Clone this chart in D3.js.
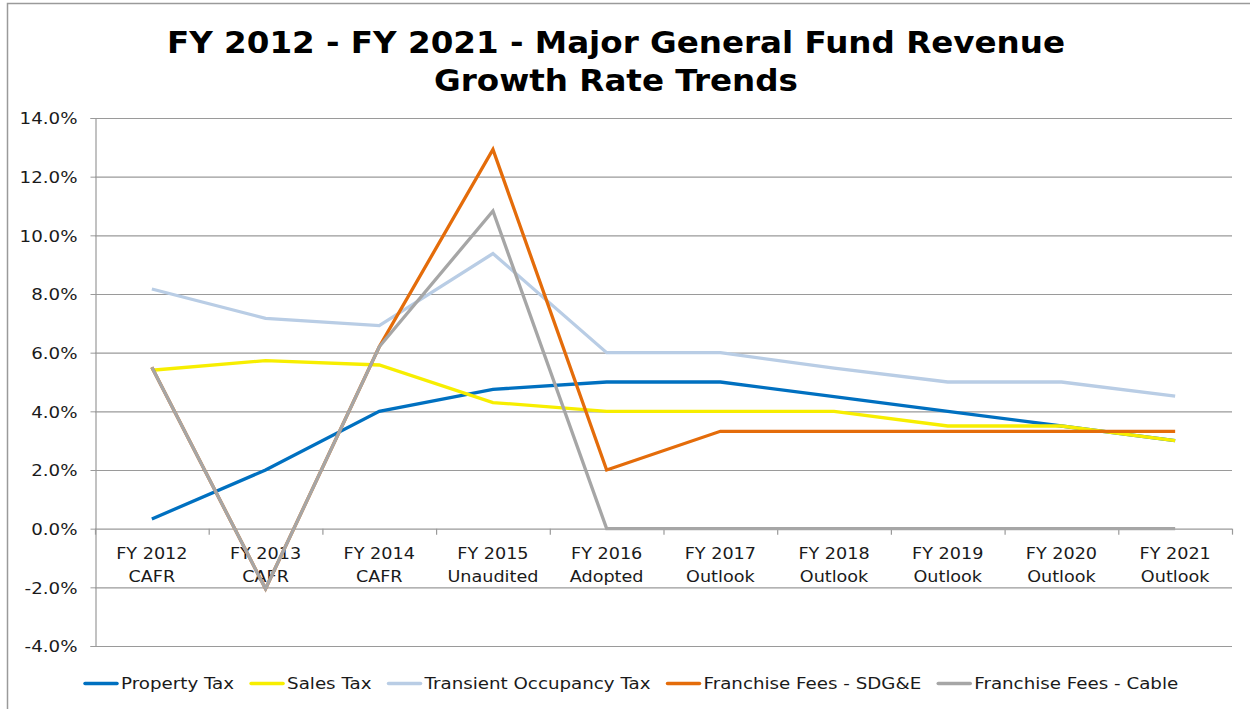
<!DOCTYPE html>
<html><head><meta charset="utf-8">
<script src="https://cdn.jsdelivr.net/npm/d3@7"></script>
<style>body{margin:0;background:#fff}svg{display:block}</style>
</head><body>
<svg id="chart" width="1250" height="709"></svg>
<script>
const categories = [
  ["FY 2012","CAFR"],["FY 2013","CAFR"],["FY 2014","CAFR"],["FY 2015","Unaudited"],["FY 2016","Adopted"],
  ["FY 2017","Outlook"],["FY 2018","Outlook"],["FY 2019","Outlook"],["FY 2020","Outlook"],["FY 2021","Outlook"]
];
const propertyTax   = [0.33, 2.0, 4.0, 4.75, 5.0, 5.0, 4.5, 4.0, 3.5, 3.0];
const salesTax      = [5.4, 5.73, 5.58, 4.3, 4.0, 4.0, 4.0, 3.5, 3.5, 3.0];
const transientTax  = [8.17, 7.17, 6.92, 9.38, 6.0, 6.0, 5.47, 5.0, 5.0, 4.52];
const franchiseSDGE = [5.5, -2.05, 6.2, 12.93, 2.0, 3.32, 3.32, 3.32, 3.32, 3.32];
const franchiseCable= [5.5, -2.05, 6.2, 10.83, 0.0, 0.0, 0.0, 0.0, 0.0, 0.0];
const yTicks = [-4, -2, 0, 2, 4, 6, 8, 10, 12, 14];
const seriesNames = ["Property Tax","Sales Tax","Transient Occupancy Tax","Franchise Fees - SDG&E","Franchise Fees - Cable"];
const seriesColors = ["#0070C0","#F7EE00","#B9CDE5","#E46C0A","#A6A6A6"];
const titleLines = ["FY 2012 - FY 2021 - Major General Fund Revenue","Growth Rate Trends"];

const series = [propertyTax, salesTax, transientTax, franchiseSDGE, franchiseCable];
const svg = d3.select("#chart");
const font = "Verdana, 'DejaVu Sans', sans-serif";

function stretch(sel, k){
  sel.each(function(){
    const w = this.getComputedTextLength();
    this.setAttribute("textLength", w*k);
    this.setAttribute("lengthAdjust","spacingAndGlyphs");
  });
}

// outer border
svg.append("path").attr("d","M7.5,709 L7.5,3.5 L1250,3.5").attr("fill","none").attr("stroke","#9a9a9a").attr("stroke-width",1.5);

const L = 95, R = 1232, T = 118, B = 646;
const x = d3.scaleBand().domain(d3.range(categories.length)).range([L, R]).paddingInner(0).paddingOuter(0);
const y = d3.scaleLinear().domain([-4, 14]).range([B, T]);

// title
const tt = svg.append("g").selectAll("text").data(titleLines).join("text")
  .attr("x", 616).attr("y", (d,i)=> 53 + i*38)
  .attr("text-anchor","middle").attr("font-family",font).attr("font-weight","bold")
  .attr("font-size",30).attr("fill","#000").text(d=>d);
stretch(tt, 1.085);

// gridlines
svg.append("g").selectAll("line").data(yTicks).join("line")
  .attr("x1", L).attr("x2", R).attr("y1", d=>y(d)+0.5).attr("y2", d=>y(d)+0.5)
  .attr("stroke","#9a9a9a").attr("stroke-width",1.2);

// y axis
const yAxis = d3.axisLeft(y).tickValues(yTicks).tickFormat(d=>d.toFixed(1)+"%").tickSize(5).tickPadding(13);
const gy = svg.append("g").attr("transform",`translate(${L+0.5},0)`).call(yAxis);
gy.select(".domain").attr("stroke","#9a9a9a").attr("stroke-width",1.2);
gy.selectAll(".tick line").attr("stroke","#9a9a9a");
gy.selectAll("text").attr("font-family",font).attr("font-size",16).attr("fill","#1a1a1a").attr("dy","0.36em");
stretch(gy.selectAll("text"), 1.14);

// x axis at 0 with ticks at boundaries
const boundaries = d3.range(categories.length+1).map(i => i < categories.length ? x(i) : R);
svg.append("g").selectAll("line").data(boundaries).join("line")
  .attr("x1", d=>d+0.5).attr("x2", d=>d+0.5).attr("y1", y(0)).attr("y2", y(0)+6)
  .attr("stroke","#9a9a9a").attr("stroke-width",1.2);
const catG = svg.append("g").selectAll("g").data(categories).join("g");
const catT = catG.selectAll("text").data((d,i)=> d.map(s=>({s, i}))).join("text")
  .attr("x", d=> x(d.i)+x.bandwidth()/2).attr("y", (d,j)=> y(0)+30 + j*23)
  .attr("text-anchor","middle").attr("font-family",font).attr("font-size",16).attr("fill","#1a1a1a")
  .text(d=>d.s);
stretch(catT, 1.1);

// lines
const line = d3.line().x((d,i)=> x(i)+x.bandwidth()/2).y(d=>y(d));
svg.append("g").selectAll("path").data(series).join("path")
  .attr("d", d=>line(d)).attr("fill","none")
  .attr("stroke",(d,i)=>seriesColors[i]).attr("stroke-width",3.3)
  .attr("stroke-linejoin","miter").attr("stroke-linecap","butt");

// legend
const lg = svg.append("g").attr("font-family",font).attr("font-size",16);
let lx = 85;
seriesNames.forEach((name,i)=>{
  lg.append("line").attr("x1",lx).attr("x2",lx+32).attr("y1",683.5).attr("y2",683.5)
    .attr("stroke",seriesColors[i]).attr("stroke-width",3.5).attr("stroke-linecap","round");
  const t = lg.append("text").attr("x",lx+36).attr("y",689).attr("fill","#1a1a1a").text(name);
  stretch(t, 1.14);
  const w = +t.attr("textLength");
  lx = lx + 36 + w + 17;
});
</script>
</body></html>
